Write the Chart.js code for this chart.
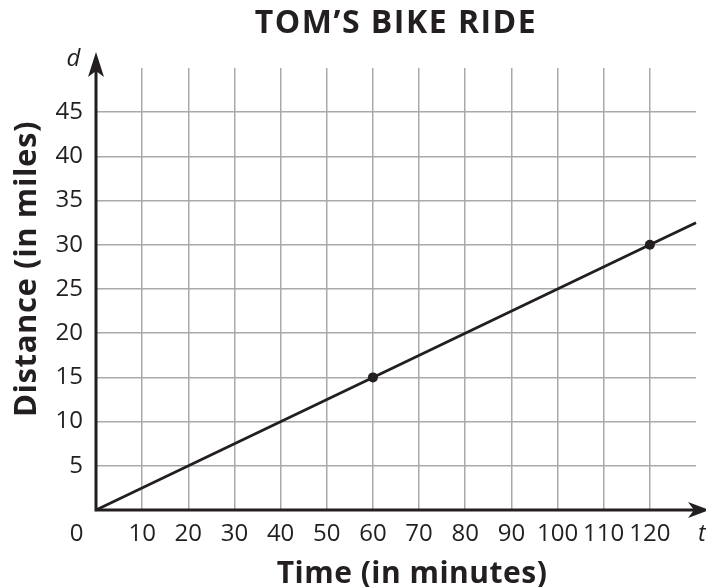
<!DOCTYPE html>
<html>
<head>
<meta charset="utf-8">
<script src="https://cdn.jsdelivr.net/npm/chart.js@4/dist/chart.umd.min.js"></script>
<style>
html, body { margin: 0; padding: 0; background: #fff; }
</style>
</head>
<body>
<canvas id="chart" width="706" height="587"></canvas>
<script>
// dati del grafico
var titolo = 'TOM\u2019S BIKE RIDE';
var titoloX = 'Time (in minutes)';
var titoloY = 'Distance (in miles)';
var tempi = [0, 60, 120, 130];
var distanze = [0, 15, 30, 32.5];
var raggiPunti = [0, 5, 5, 0];
var tickX = [10, 20, 30, 40, 50, 60, 70, 80, 90, 100, 110, 120];
var tickY = [5, 10, 15, 20, 25, 30, 35, 40, 45];

var nero = '#231f20';
var griglia = '#a7a9ac';
var font = "'Open Sans', sans-serif";

var punti = tempi.map(function (t, i) { return { x: t, y: distanze[i] }; });

// assi con frecce, titoli e lettere d / t
var pluginAssi = {
    id: 'assi',
    afterDraw: function (chart) {
        var ctx = chart.ctx;
        var sx = chart.scales.x, sy = chart.scales.y;
        var x0 = sx.getPixelForValue(0), y0 = sy.getPixelForValue(0);
        var xEnd = 709, yEnd = 52;
        ctx.save();
        ctx.strokeStyle = nero;
        ctx.fillStyle = nero;
        ctx.lineWidth = 3;
        ctx.beginPath();
        ctx.moveTo(x0, y0 + 1.5);
        ctx.lineTo(x0, yEnd + 10);
        ctx.moveTo(x0 - 1.5, y0);
        ctx.lineTo(xEnd - 10, y0);
        ctx.stroke();
        // freccia verticale
        ctx.beginPath();
        ctx.moveTo(x0, yEnd);
        ctx.lineTo(x0 + 8, yEnd + 25);
        ctx.lineTo(x0, yEnd + 19);
        ctx.lineTo(x0 - 8, yEnd + 25);
        ctx.closePath();
        ctx.fill();
        // freccia orizzontale
        ctx.beginPath();
        ctx.moveTo(xEnd, y0);
        ctx.lineTo(xEnd - 21, y0 - 8);
        ctx.lineTo(xEnd - 15, y0);
        ctx.lineTo(xEnd - 21, y0 + 8);
        ctx.closePath();
        ctx.fill();

        ctx.textBaseline = 'alphabetic';
        ctx.textAlign = 'center';
        ctx.font = "bold 32px " + font;
        ctx.letterSpacing = '1.5px';
        ctx.fillText(titolo, 396, 33);
        ctx.font = "bold 30px " + font;
        ctx.letterSpacing = '0.5px';
        ctx.fillText(titoloX, 412, 583);
        // titolo verticale
        ctx.save();
        ctx.translate(36, 269);
        ctx.rotate(-Math.PI / 2);
        ctx.font = "bold 31px " + font;
        ctx.letterSpacing = '0.6px';
        ctx.fillText(titoloY, 0, 0);
        ctx.restore();
        ctx.letterSpacing = '0px';
        ctx.font = "24px " + font;
        ctx.fillText('0', 76.5, 541);
        ctx.font = "italic 24px " + font;
        ctx.fillText('d', 73.5, 66);
        ctx.textAlign = 'left';
        ctx.fillText('t', 698, 541);
        ctx.restore();
    }
};

var ctx = document.getElementById('chart');
var chart = new Chart(ctx, {
    type: 'scatter',
    data: {
        datasets: [{
            data: punti,
            showLine: true,
            borderColor: nero,
            backgroundColor: nero,
            borderWidth: 2.8,
            pointRadius: raggiPunti,
            pointHoverRadius: raggiPunti,
            pointBorderWidth: 0,
            clip: false
        }]
    },
    options: {
        responsive: false,
        animation: false,
        devicePixelRatio: 1,
        layout: { padding: { top: 68, right: 4, left: 0, bottom: 0 } },
        plugins: { legend: { display: false }, tooltip: { enabled: false } },
        scales: {
            x: {
                type: 'linear',
                min: 0,
                max: 130,
                border: { display: false },
                grid: {
                    drawTicks: false,
                    lineWidth: 1.5,
                    color: function (c) {
                        return tickX.indexOf(c.tick.value) >= 0 ? griglia : 'rgba(0,0,0,0)';
                    }
                },
                ticks: {
                    stepSize: 10,
                    padding: 10,
                    maxRotation: 0,
                    autoSkip: false,
                    color: nero,
                    font: { family: font, size: 24 },
                    callback: function (v) { return tickX.indexOf(v) >= 0 ? v : ''; }
                },
                afterFit: function (s) { s.height = 77; }
            },
            y: {
                type: 'linear',
                min: 0,
                max: 50,
                border: { display: false },
                grid: {
                    drawTicks: false,
                    lineWidth: 1.5,
                    color: function (c) {
                        return tickY.indexOf(c.tick.value) >= 0 ? griglia : 'rgba(0,0,0,0)';
                    }
                },
                ticks: {
                    stepSize: 5,
                    padding: 13,
                    autoSkip: false,
                    color: nero,
                    font: { family: font, size: 24 },
                    callback: function (v) { return tickY.indexOf(v) >= 0 ? v : ''; }
                },
                afterFit: function (s) { s.width = 96; }
            }
        }
    },
    plugins: [pluginAssi]
});
</script>
</body>
</html>
